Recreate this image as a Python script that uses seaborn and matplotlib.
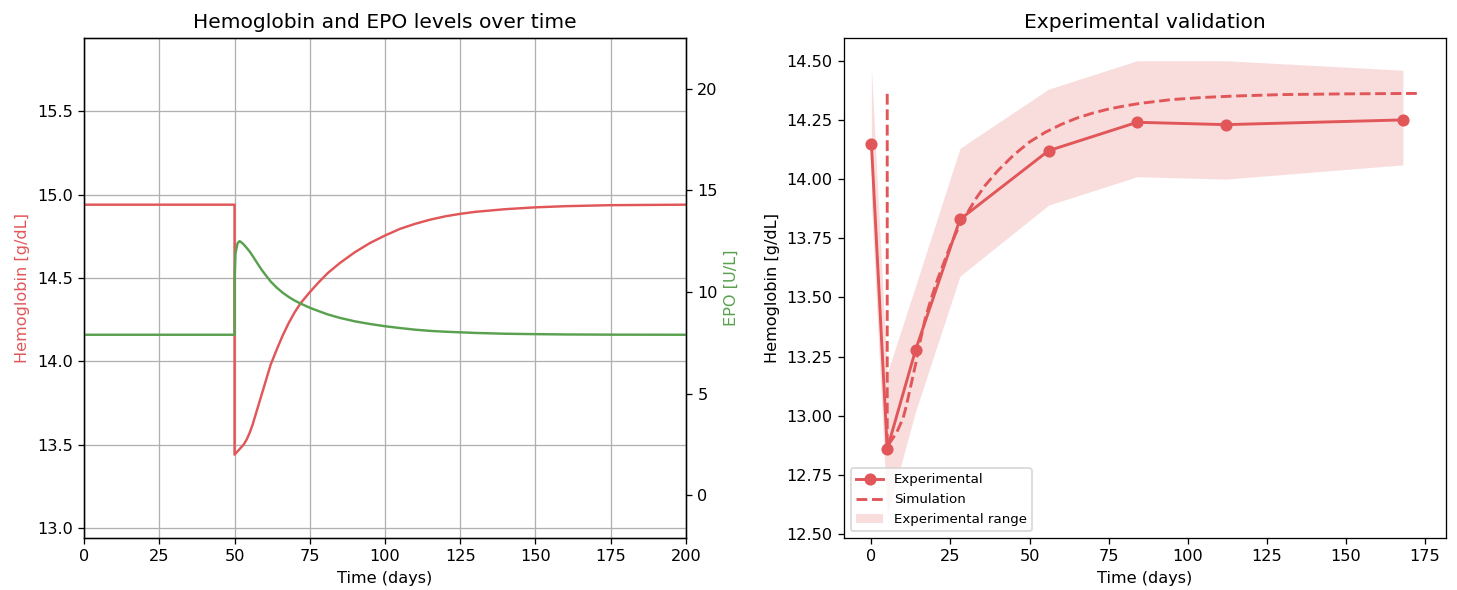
import numpy as np
import pandas as pd
import matplotlib
matplotlib.use("Agg")
import matplotlib.pyplot as plt
import seaborn as sns

RED = "#e15759"
GREEN = "#59a14f"

# --- simulation over 200 days (left panel), bleed at day 50 ---
sim_days = [0, 50, 50, 51, 52, 53, 54, 55, 56, 57, 58, 59, 60, 62, 64, 66, 68, 70, 72,
            75, 78, 81, 85, 90, 95, 100, 105, 110, 115, 120, 125, 130, 140, 150, 160, 175, 200]
sim_hb = [14.94, 14.94, 13.44, 13.46, 13.48, 13.50, 13.53, 13.57, 13.62, 13.68, 13.74, 13.80,
          13.86, 13.98, 14.07, 14.155, 14.23, 14.295, 14.35, 14.415, 14.475, 14.53, 14.59,
          14.655, 14.71, 14.755, 14.795, 14.825, 14.85, 14.87, 14.885, 14.897, 14.913,
          14.924, 14.931, 14.937, 14.94]

epo_days = [0, 50, 50, 50.3, 51, 51.6, 52, 53, 54, 55, 56, 57, 58, 59, 60, 62, 64, 66, 68, 70,
            72, 75, 78, 81, 85, 90, 95, 100, 105, 110, 115, 120, 125, 130, 140, 150, 160, 175, 200]
sim_epo = [7.9, 7.9, 10.5, 11.9, 12.4, 12.5, 12.48, 12.35, 12.18, 12.0, 11.78, 11.55, 11.32,
           11.1, 10.9, 10.52, 10.22, 9.97, 9.76, 9.58, 9.43, 9.23, 9.06, 8.9, 8.73, 8.56,
           8.43, 8.32, 8.23, 8.15, 8.09, 8.05, 8.02, 7.99, 7.95, 7.93, 7.915, 7.905, 7.9]

# --- experimental validation (right panel) ---
exp_days = [0, 5, 14, 28, 56, 84, 112, 168]
exp_hb = [14.15, 12.86, 13.28, 13.83, 14.12, 14.24, 14.23, 14.25]
exp_upper = [14.47, 13.18, 13.55, 14.13, 14.38, 14.50, 14.50, 14.46]
exp_lower = [13.90, 12.58, 13.02, 13.59, 13.89, 14.01, 14.00, 14.06]

val_days = [5, 5, 6, 7, 8, 9, 10, 11, 12, 13, 14, 15, 17, 19, 21, 23, 25, 27, 30, 33, 36,
            40, 45, 50, 55, 60, 65, 70, 75, 80, 85, 95, 105, 115, 130, 150, 173]
val_hb = [14.36, 12.87, 12.89, 12.91, 12.93, 12.96, 12.99, 13.04, 13.10, 13.16, 13.22, 13.29,
          13.41, 13.50, 13.58, 13.65, 13.72, 13.78, 13.85, 13.917, 13.974, 14.036, 14.102,
          14.157, 14.198, 14.231, 14.258, 14.279, 14.296, 14.309, 14.32, 14.336, 14.345,
          14.351, 14.357, 14.36, 14.362]

hb_df = pd.DataFrame({"day": sim_days, "hb": sim_hb})
epo_df = pd.DataFrame({"day": epo_days, "epo": sim_epo})
exp_df = pd.DataFrame({"day": exp_days, "hb": exp_hb})
val_df = pd.DataFrame({"day": val_days, "hb": val_hb})

fig = plt.figure(figsize=(12.5, 590 / 116.56), dpi=116.56)
ax1 = fig.add_axes([0.0577, 0.0881, 0.4131, 0.8475])
ax3 = fig.add_axes([0.5793, 0.0881, 0.4132, 0.8475])

# left: hemoglobin + EPO
sns.lineplot(data=hb_df, x="day", y="hb", ax=ax1, color=RED, lw=1.5,
             estimator=None, sort=False)
ax1.set_xlim(0, 200)
ax1.set_ylim(min(sim_hb) - 0.5, max(sim_hb) + 1)
ax1.set_xlabel("Time (days)")
ax1.set_ylabel("Hemoglobin [g/dL]", color=RED)
ax1.grid(True)
ax1.set_title("Hemoglobin and EPO levels over time", fontsize=12.5)

ax2 = ax1.twinx()
sns.lineplot(data=epo_df, x="day", y="epo", ax=ax2, color=GREEN, lw=1.5,
             estimator=None, sort=False)
ax2.set_ylim(min(sim_epo) - 10, max(sim_epo) + 10)
ax2.set_ylabel("EPO [U/L]", color=GREEN)
ax2.set_xlim(0, 200)

# right: experimental validation
sns.lineplot(data=exp_df, x="day", y="hb", ax=ax3, color=RED, lw=1.8, marker="o",
             markersize=7.5, markeredgecolor=RED, markeredgewidth=0,
             label="Experimental", estimator=None, sort=False)
sns.lineplot(data=val_df, x="day", y="hb", ax=ax3, color=RED, lw=1.8, linestyle="--",
             label="Simulation", estimator=None, sort=False)
ax3.fill_between(exp_days, exp_lower, exp_upper, color=RED, alpha=0.2, lw=0,
                 label="Experimental range")
ax3.set_xlabel("Time (days)")
ax3.set_ylabel("Hemoglobin [g/dL]")
ax3.set_title("Experimental validation", fontsize=12.5)
ax3.legend(loc="lower left", fontsize=8.3)

fig.savefig("out.png", dpi=116.56)
